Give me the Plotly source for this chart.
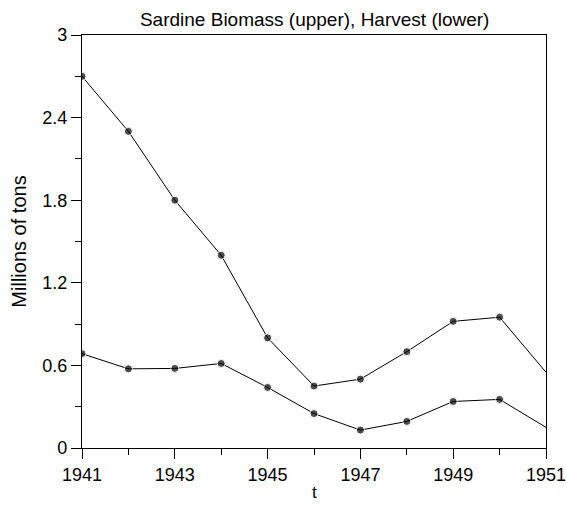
import plotly.graph_objects as go

# Pacific sardine fishery, 1941-1951 (millions of tons)
years = [1941, 1942, 1943, 1944, 1945, 1946, 1947, 1948, 1949, 1950, 1951]
biomass = [2.70, 2.30, 1.80, 1.40, 0.80, 0.45, 0.50, 0.70, 0.92, 0.95, 0.55]
harvest = [0.685, 0.575, 0.578, 0.614, 0.44, 0.25, 0.13, 0.193, 0.338, 0.353, 0.15]

x_ticks = [1941, 1943, 1945, 1947, 1949, 1951]
y_ticks = [0, 0.6, 1.2, 1.8, 2.4, 3]
y_tick_text = ["0", "0.6", "1.2", "1.8", "2.4", "3"]

FONT = "Liberation Sans, Arial, sans-serif"

# no dot drawn on the final year
marker_sizes = [8] * (len(years) - 1) + [0]

fig = go.Figure()
for series in (biomass, harvest):
    fig.add_trace(go.Scatter(
        x=years, y=series, mode="lines+markers",
        line=dict(color="black", width=1),
        marker=dict(color="black", size=marker_sizes),
        showlegend=False, hoverinfo="x+y",
    ))

axis_common = dict(
    showgrid=False, zeroline=False, automargin=False,
    showline=True, linecolor="black", linewidth=1.3, mirror=True,
    ticks="outside", ticklen=10, tickwidth=1, tickcolor="black",
    tickfont=dict(family=FONT, size=18, color="black"),
    ticklabeloverflow="allow",
)

fig.update_xaxes(
    range=[1941, 1951], tickvals=x_ticks,
    minor=dict(dtick=1, tick0=1941, ticks="outside", ticklen=6, tickcolor="black"),
    **axis_common,
)
fig.update_yaxes(
    range=[0, 3], tickvals=y_ticks, ticktext=y_tick_text,
    minor=dict(dtick=0.3, tick0=0, ticks="outside", ticklen=6, tickcolor="black"),
    title=dict(text="Millions of tons", font=dict(family=FONT, size=20, color="black"), standoff=10),
    **axis_common,
)

# x-axis title placed just under the tick labels, kept inside the page
fig.add_annotation(
    text="t", xref="paper", yref="paper", x=0.5, y=-0.1356,
    xanchor="center", yanchor="bottom", showarrow=False,
    font=dict(family=FONT, size=17, color="black"),
)

fig.update_layout(
    width=566, height=505,
    margin=dict(l=82, r=20, t=35, b=57),
    paper_bgcolor="white", plot_bgcolor="white",
    title=dict(
        text="Sardine Biomass (upper), Harvest (lower)",
        font=dict(family=FONT, size=19, color="black"),
        x=0.556, xanchor="center", y=0.962, yanchor="middle",
    ),
)

fig.write_html("out.html")
